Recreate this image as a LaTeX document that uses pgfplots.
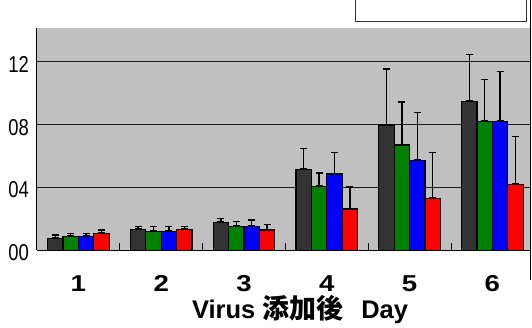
\documentclass[border=0pt]{standalone}
\usepackage{pgfplots}
\pgfplotsset{compat=1.18}
\usepackage{pgfplotstable}
\usetikzlibrary{arrows.meta}
\usepackage{graphicx}
\usepackage{fontspec}
\setmainfont{Liberation Sans}
\newfontfamily\cjk{Noto Sans CJK JP}
\definecolor{bgray}{HTML}{C0C0C0}
\definecolor{cA}{HTML}{333333}
\definecolor{cB}{HTML}{008000}
\definecolor{cC}{HTML}{0000FF}
\definecolor{cD}{HTML}{FF0000}
\newcommand\sx[1]{\scalebox{1.2}[1]{#1}}
\newcommand\sy[1]{\scalebox{0.8}[1]{#1}}

\pgfplotstableread{
day blk eblk grn egrn blu eblu red ered
1 0.077 0.026 0.088 0.025 0.088 0.025 0.109 0.026
2 0.132 0.024 0.119 0.037 0.119 0.037 0.132 0.024
3 0.177 0.031 0.151 0.036 0.151 0.047 0.130 0.038
4 0.517 0.136 0.405 0.092 0.486 0.141 0.263 0.145
5 0.797 0.360 0.670 0.279 0.573 0.308 0.329 0.298
6 0.949 0.299 0.822 0.267 0.822 0.322 0.420 0.307
}\data

\pgfplotsset{
  every error bar/.style={draw=black, line width=1.3pt, {Bar[width=7pt]}-{Bar[width=7pt]}},
}

\begin{document}
\begin{tikzpicture}
\path[use as bounding box] (-37pt,-77.5pt) rectangle (495pt,250.5pt);
\begin{axis}[
  at={(0,0)}, anchor=south west,
  scale only axis, width=493pt, height=222.5pt,
  xmin=0.5, xmax=6.454, ymin=0, ymax=1.4145,
  clip=false,
  ybar=0pt, bar width=0.186,
  axis x line*=bottom, axis y line*=left,
  axis line style={black, line width=1pt},
  axis background/.style={fill=bgray},
  ymajorgrids, major grid style={black!90, line width=0.9pt},
  ytick={0,0.4,0.8,1.2},
  yticklabels={\sy{00},\sy{04},\sy{08},\sy{12}},
  yticklabel style={font=\fontsize{23}{23}\selectfont, anchor=east, inner sep=0pt, xshift=-8pt, yshift=-2.5pt},
  xtick={1,2,3,4,5,6},
  xticklabels={\sx{1},\sx{2},\sx{3},\sx{4},\sx{5},\sx{6}},
  xticklabel style={font=\fontsize{23}{23}\selectfont\bfseries, anchor=base, inner sep=0pt, yshift=-41.5pt},
  minor xtick={1.5,2.5,3.5,4.5,5.5},
  major tick length=0pt, minor tick length=7pt, tick align=inside,
  tick style={black, line width=0.8pt},
  xlabel={\bfseries Virus {\cjk\bfseries\fontsize{27}{27}\selectfont 添加後}\hspace{0.7em}Day},
  xlabel style={at={(rel axis cs:0.5335,0)}, anchor=base, inner sep=0pt, yshift=-68pt, font=\fontsize{25.5}{25.5}\selectfont},
]
\addplot[draw=black, line width=1.3pt, fill=cA, error bars/.cd, y dir=plus, y explicit, error mark=none] table[x=day, y=blk, y error=eblk]{\data};
\addplot[draw=black, line width=1.3pt, fill=cB, error bars/.cd, y dir=plus, y explicit, error mark=none] table[x=day, y=grn, y error=egrn]{\data};
\addplot[draw=black, line width=1.3pt, fill=cC, error bars/.cd, y dir=plus, y explicit, error mark=none] table[x=day, y=blu, y error=eblu]{\data};
\addplot[draw=black, line width=1.3pt, fill=cD, error bars/.cd, y dir=plus, y explicit, error mark=none] table[x=day, y=red, y error=ered]{\data};
\draw[black!80, line width=1pt] (axis cs:4.341,1.65) |- (axis cs:6.414,1.4546) -- (axis cs:6.414,1.65);
\draw[black, line width=1pt] (axis cs:6.454,1.65) -- (axis cs:6.454,-0.1875);
\end{axis}
\end{tikzpicture}
\end{document}
